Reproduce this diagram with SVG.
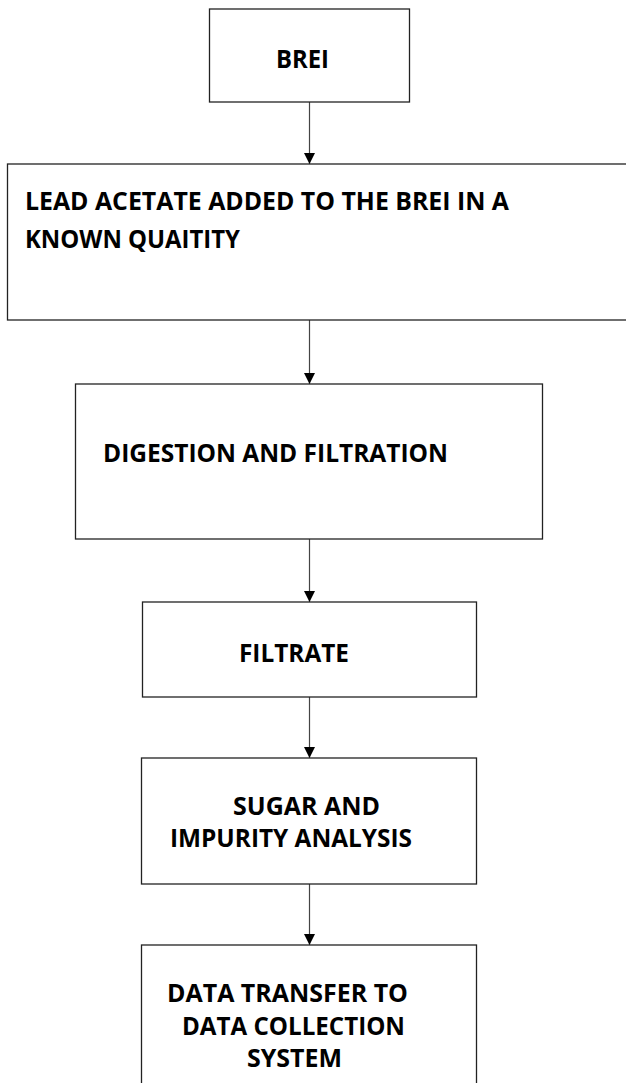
<svg xmlns="http://www.w3.org/2000/svg" width="626" height="1083" viewBox="0 0 626 1083">
  <style>
    .box { fill: #ffffff; stroke: #222222; stroke-width: 1.3; }
    .lbl { font-family: "Open Sans", "Liberation Sans", sans-serif; font-weight: 700; font-size: 25px; fill: #000000; }
    .conn { stroke: #444444; stroke-width: 1.2; fill: none; }
  </style>
  <defs>
    <marker id="arrow" markerUnits="userSpaceOnUse" markerWidth="12" markerHeight="11" refX="10" refY="5" orient="auto" viewBox="0 0 10 10">
      <path d="M0,0 L10,5 L0,10 Z" fill="#000000"/>
    </marker>
  </defs>
  <rect x="0" y="0" width="626" height="1083" fill="#ffffff"/>

  <g id="connectors">
    <line class="conn" x1="309.5" y1="102" x2="309.5" y2="164" marker-end="url(#arrow)"/>
    <line class="conn" x1="309.5" y1="320" x2="309.5" y2="384" marker-end="url(#arrow)"/>
    <line class="conn" x1="309.5" y1="539" x2="309.5" y2="602" marker-end="url(#arrow)"/>
    <line class="conn" x1="309.5" y1="697" x2="309.5" y2="758" marker-end="url(#arrow)"/>
    <line class="conn" x1="309.5" y1="884" x2="309.5" y2="945" marker-end="url(#arrow)"/>
  </g>

  <g id="node-brei">
    <rect class="box" x="209.5" y="9" width="200" height="93"/>
    <text class="lbl" x="276" y="68" textLength="53" lengthAdjust="spacingAndGlyphs">BREI</text>
  </g>

  <g id="node-lead-acetate">
    <rect class="box" x="7.5" y="164" width="640" height="156"/>
    <text class="lbl" x="25" y="210" textLength="484" lengthAdjust="spacingAndGlyphs">LEAD ACETATE ADDED TO THE BREI IN A</text>
    <text class="lbl" x="25" y="248" textLength="215" lengthAdjust="spacingAndGlyphs">KNOWN QUAITITY</text>
  </g>

  <g id="node-digestion">
    <rect class="box" x="75.5" y="384" width="467" height="155"/>
    <text class="lbl" x="103" y="462" textLength="345" lengthAdjust="spacingAndGlyphs">DIGESTION AND FILTRATION</text>
  </g>

  <g id="node-filtrate">
    <rect class="box" x="142.5" y="602" width="334" height="95"/>
    <text class="lbl" x="239" y="662" textLength="110" lengthAdjust="spacingAndGlyphs">FILTRATE</text>
  </g>

  <g id="node-sugar">
    <rect class="box" x="141.5" y="758" width="335" height="126"/>
    <text class="lbl" x="233" y="815" textLength="147" lengthAdjust="spacingAndGlyphs">SUGAR AND</text>
    <text class="lbl" x="170" y="847" textLength="242" lengthAdjust="spacingAndGlyphs">IMPURITY ANALYSIS</text>
  </g>

  <g id="node-data-transfer">
    <rect class="box" x="141.5" y="945" width="335" height="160"/>
    <text class="lbl" x="167" y="1002" textLength="241" lengthAdjust="spacingAndGlyphs">DATA TRANSFER TO</text>
    <text class="lbl" x="182" y="1035" textLength="223" lengthAdjust="spacingAndGlyphs">DATA COLLECTION</text>
    <text class="lbl" x="247" y="1067" textLength="95" lengthAdjust="spacingAndGlyphs">SYSTEM</text>
  </g>
</svg>
